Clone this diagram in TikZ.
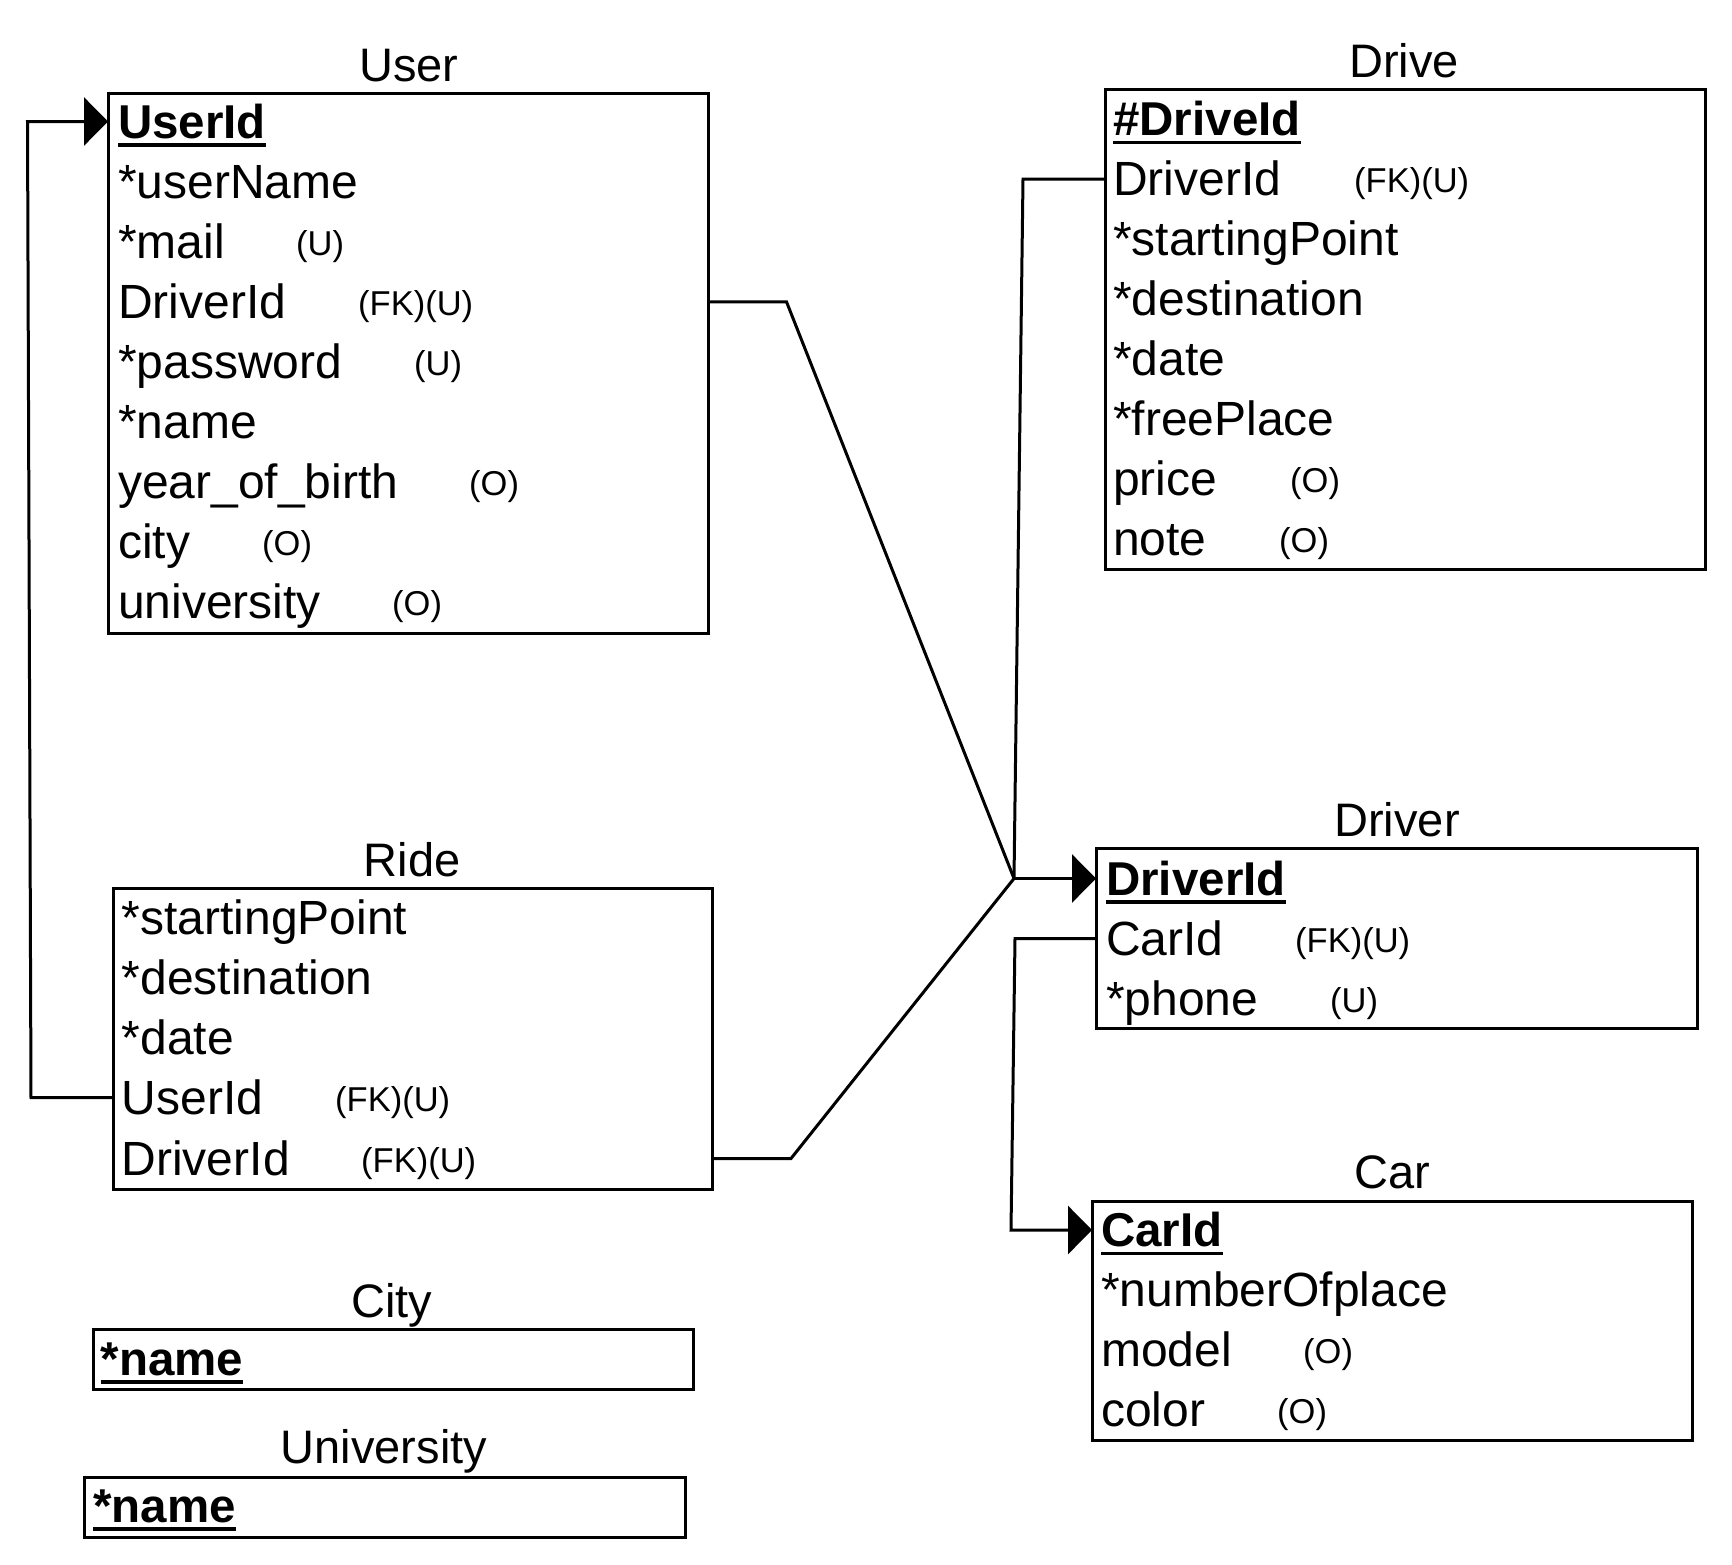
\documentclass[tikz,border=0pt]{standalone}
\usepackage{fontspec}
\setmainfont{Liberation Sans}
\usetikzlibrary{arrows.meta}
\tikzset{
  box/.style={draw, line width=3pt, inner sep=0pt, outer sep=0pt, anchor=north west},
  ttl/.style={anchor=base, inner sep=0pt, font=\fontsize{47}{50}\selectfont},
  row/.style={anchor=base west, inner sep=0pt, text height=33pt, text depth=0pt, font=\fontsize{48}{50}\selectfont},
  keyrow/.style={row, font=\fontsize{47.5}{50}\selectfont\bfseries},
  note/.style={anchor=base west, inner sep=0pt, font=\fontsize{34.5}{40}\selectfont},
  link/.style={line width=3pt},
  tip/.style={-{Triangle[width=48pt,length=24pt]}},
  uline/.style={line width=3.5pt},
}
\begin{document}
\begin{tikzpicture}[x=1pt,y=-1pt]
\useasboundingbox (0,0) rectangle (1732,1564);

% ---------- boxes ----------
\node[box, minimum width=600pt, minimum height=540pt] (user) at (108,93) {};
\node[box, minimum width=600pt, minimum height=479.5pt] (drive) at (1105,89.5) {};
\node[box, minimum width=601pt, minimum height=180pt] (driver) at (1096,848) {};
\node[box, minimum width=600pt, minimum height=239pt] (car) at (1092,1201) {};
\node[box, minimum width=599pt, minimum height=301pt] (ride) at (113,888) {};
\node[box, minimum width=600pt, minimum height=60pt] (city) at (93,1329) {};
\node[box, minimum width=601pt, minimum height=60pt] (univ) at (84,1477) {};

% ---------- titles ----------
\node[ttl] (tUser) at (409,81) {User};
\node[ttl] (tDrive) at (1404,77) {Drive};
\node[ttl] (tDriver) at (1397,836) {Driver};
\node[ttl] (tCar) at (1392,1188) {Car};
\node[ttl] (tRide) at (412,876) {Ride};
\node[ttl] (tCity) at (392,1317) {City};
\node[ttl] (tUniv) at (384,1463) {University};

% ---------- User ----------
\node[keyrow] (u1) at (118,138) {UserId};
\node[row] (u2) at (118,198.1) {*userName};
\node[row] (u3) at (118,258.2) {*mail};
\node[row] (u4) at (118,318.3) {DriverId};
\node[row] (u5) at (118,378.4) {*password};
\node[row] (u6) at (118,438.5) {*name};
\node[row] (u7) at (118,498.6) {year\_of\_birth};
\node[row] (u8) at (118,558.7) {city};
\node[row] (u9) at (118,618.8) {university};
\node[note] (nu3) at (296,255.2) {(U)};
\node[note] (nu4) at (358,315.3) {(FK)(U)};
\node[note] (nu5) at (414,375.4) {(U)};
\node[note] (nu7) at (469,495.6) {(O)};
\node[note] (nu8) at (262,555.7) {(O)};
\node[note] (nu9) at (392,615.8) {(O)};
\draw[uline] ([yshift=-7pt]u1.base west) -- ([yshift=-7pt]u1.base east);

% ---------- Drive ----------
\node[keyrow] (d1) at (1113,135.5) {\#DriveId};
\node[row] (d2) at (1113,195.5) {DriverId};
\node[row] (d3) at (1113,255.5) {*startingPoint};
\node[row] (d4) at (1113,315.5) {*destination};
\node[row] (d5) at (1113,375.5) {*date};
\node[row] (d6) at (1113,435.5) {*freePlace};
\node[row] (d7) at (1113,495.5) {price};
\node[row] (d8) at (1113,555.5) {note};
\node[note] (nd2) at (1354,192.5) {(FK)(U)};
\node[note] (nd7) at (1290,492.5) {(O)};
\node[note] (nd8) at (1279,552.5) {(O)};
\draw[uline] ([yshift=-7pt]d1.base west) -- ([yshift=-7pt]d1.base east);

% ---------- Driver ----------
\node[keyrow] (dr1) at (1106,895) {DriverId};
\node[row] (dr2) at (1106,955) {CarId};
\node[row] (dr3) at (1106,1015) {*phone};
\node[note] (ndr2) at (1295,952) {(FK)(U)};
\node[note] (ndr3) at (1330,1012) {(U)};
\draw[uline] ([yshift=-7pt]dr1.base west) -- ([yshift=-7pt]dr1.base east);

% ---------- Car ----------
\node[keyrow] (c1) at (1101,1246.5) {CarId};
\node[row] (c2) at (1101,1306.5) {*numberOfplace};
\node[row] (c3) at (1101,1366.5) {model};
\node[row] (c4) at (1101,1426.5) {color};
\node[note] (nc3) at (1303,1363.5) {(O)};
\node[note] (nc4) at (1277,1423.5) {(O)};
\draw[uline] ([yshift=-7pt]c1.base west) -- ([yshift=-7pt]c1.base east);

% ---------- Ride ----------
\node[row] (r1) at (121.5,934) {*startingPoint};
\node[row] (r2) at (121.5,994) {*destination};
\node[row] (r3) at (121.5,1054) {*date};
\node[row] (r4) at (121.5,1114) {UserId};
\node[row] (r5) at (121.5,1175) {DriverId};
\node[note] (nr4) at (335,1111) {(FK)(U)};
\node[note] (nr5) at (361,1172) {(FK)(U)};

% ---------- City / University ----------
\node[keyrow] (ci1) at (100.5,1375) {*name};
\draw[uline] ([yshift=-7pt]ci1.base west) -- ([yshift=-7pt]ci1.base east);
\node[keyrow] (un1) at (93,1522) {*name};
\draw[uline] ([yshift=-7pt]un1.base west) -- ([yshift=-7pt]un1.base east);

% ---------- connectors ----------
\coordinate (jx) at (1014,0);
\coordinate (j) at (jx |- dr1);
\coordinate (lbx) at (31,0);
\coordinate (ltx) at (27.5,0);
\coordinate (cx1) at (1015,0);
\coordinate (cx2) at (1011,0);

\draw[link] (user.east |- u4) -- ++(78.5,0) -- (j);
\draw[link] (ride.east |- r5) -- ++(79,0) -- (j);
\draw[link] (drive.west |- d2) -- ++(-82,0) -- (j);
\draw[link,tip] (j) -- (driver.west |- dr1);
\draw[link,tip] (ride.west |- r4) -- (lbx |- r4) -- (ltx |- u1) -- (user.west |- u1);
\draw[link,tip] (driver.west |- dr2) -- (cx1 |- dr2) -- (cx2 |- c1) -- (car.west |- c1);
\end{tikzpicture}
\end{document}
